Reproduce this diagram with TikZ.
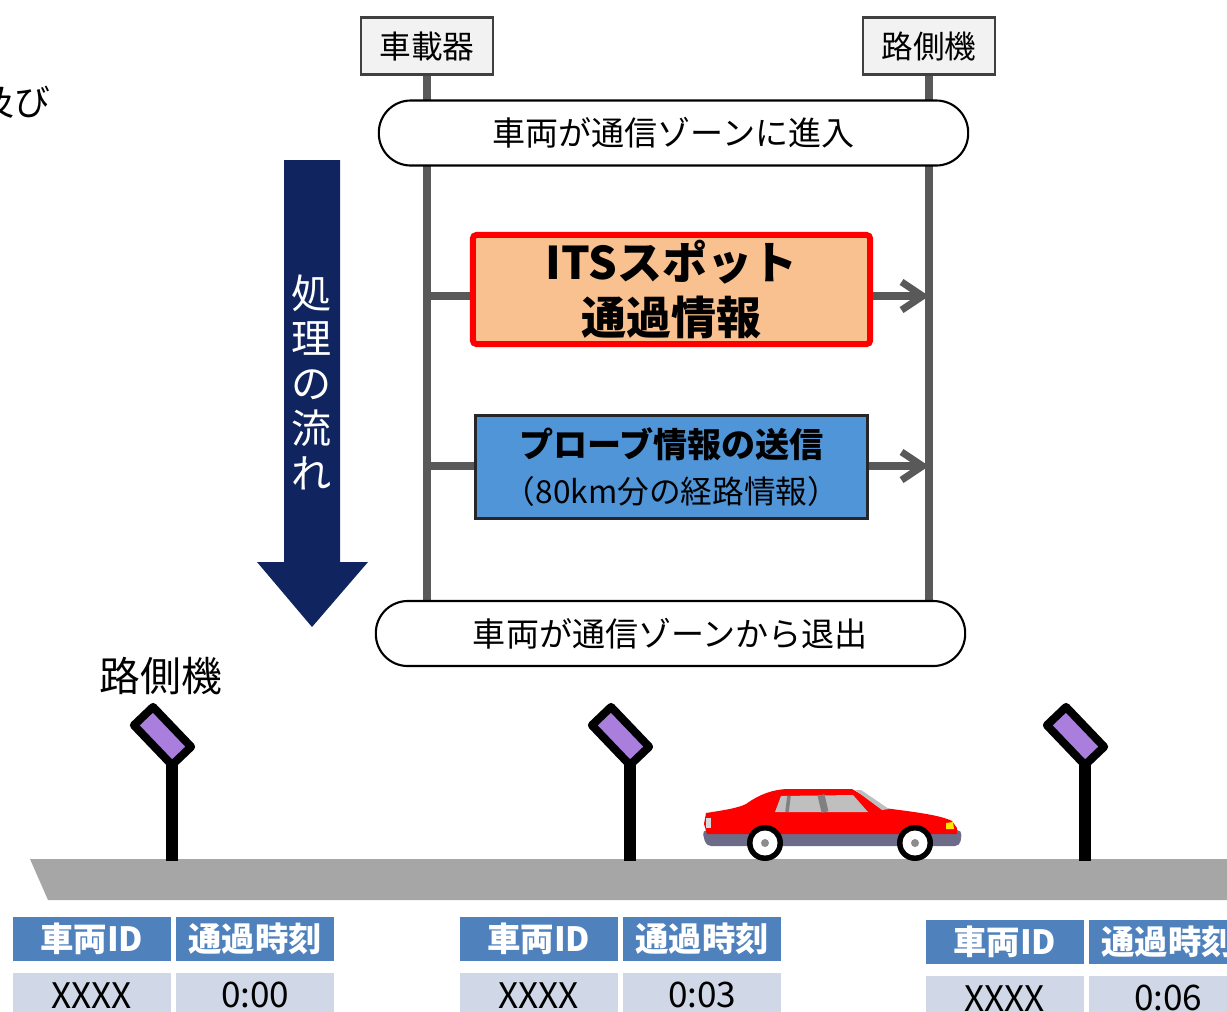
\documentclass[tikz,border=0pt]{standalone}
\usepackage{fontspec}
\setmainfont{Noto Sans CJK JP}
\usetikzlibrary{arrows.meta,backgrounds}
\definecolor{lifegray}{HTML}{595959}
\definecolor{peach}{HTML}{F9C090}
\definecolor{probeblue}{HTML}{4F95D8}
\definecolor{navy}{HTML}{10245F}
\definecolor{roadgray}{HTML}{A6A6A6}
\definecolor{signpurple}{HTML}{A97EDC}
\definecolor{tblue}{HTML}{4F81BD}
\definecolor{tlight}{HTML}{D0D8E8}
\definecolor{bumper}{HTML}{6C6C88}

\begin{document}
\begin{tikzpicture}[x=0.01cm,y=-0.01cm,
    hdr/.style={draw=black!75,line width=0.6pt,fill=black!5,minimum width=1.32cm,minimum height=0.57cm,inner sep=0pt,font=\fontsize{9}{11}\selectfont},
    zone/.style={draw,line width=0.6pt,fill=white,rounded corners=0.32cm,minimum width=5.89cm,minimum height=0.65cm,inner sep=0pt,font=\fontsize{9.4}{11}\selectfont},
    life/.style={lifegray,line width=2pt},
    msg/.style={life,-{Straight Barb[length=6pt,width=8pt]}},
    thead/.style={fill=tblue,text=white,minimum width=1.58cm,minimum height=0.44cm,inner sep=0pt,font=\fontsize{9.5}{11}\selectfont\bfseries},
    tcell/.style={fill=tlight,minimum width=1.58cm,minimum height=0.44cm,inner sep=0pt,font=\fontsize{10}{11}\selectfont},
    pole/.style={line width=3.4pt},
    sign/.style={draw,line width=2.3pt,line join=round,fill=signpurple}]
  \clip (0,0) rectangle (1227,1011);

  \node[anchor=east,inner sep=0pt,font=\fontsize{10.2}{11}\selectfont] (oyobi) at (51,102) {及び};

  % sequence part
  \node[hdr] (obu) at (427,46) {車載器};
  \node[hdr] (rsu) at (929,46) {路側機};
  \node[zone] (enter) at (673.5,133) {車両が通信ゾーンに進入};
  \node[zone] (exit) at (670.5,633.5) {車両が通信ゾーンから退出};
  \node[draw=red,line width=1.7pt,fill=peach,rounded corners=1pt,minimum width=3.97cm,minimum height=1.09cm,inner sep=0pt,align=center,font=\fontsize{12.8}{15.6}\selectfont\bfseries] (its) at (671.5,289.5) {ITSスポット\\通過情報};
  \node[draw=black!85,line width=0.9pt,fill=probeblue,minimum width=3.92cm,minimum height=1.03cm,inner sep=0pt,align=center] (probe) at (671.5,467) {{\fontsize{9.7}{11}\selectfont\bfseries プローブ情報の送信}\\[1pt]{\fontsize{9}{11}\selectfont （80km分の経路情報）}};
  \coordinate (itsy) at (0,296);
  \coordinate (probey) at (0,466);
  \begin{scope}[on background layer]
    \draw[life] (obu.south) -- (obu |- exit.north);
    \draw[life] (rsu.south) -- (rsu |- exit.north);
    \draw[msg] (obu |- itsy) -- (rsu |- itsy);
    \draw[msg] (obu |- probey) -- (rsu |- probey);
  \end{scope}

  % flow arrow
  \fill[navy] (284,160) -- (340,160) -- (340,562) -- (368,562) -- (312,627) -- (257,562) -- (284,562) -- cycle;
  \node[text=white,align=center,inner sep=0pt,font=\fontsize{11.4}{12.8}\selectfont] (flow) at (312,382) {処\\理\\の\\流\\れ};

  % road and roadside units
  \node[font=\fontsize{11.6}{13}\selectfont] (rsulabel) at (161,676) {路側機};
  \fill[roadgray] (30,859) -- (1240,859) -- (1240,900) -- (48,900) -- cycle;
  \foreach \px in {172,630,1085}{
    \draw[pole] (\px,764) -- (\px,861);
    \draw[sign,shift={(\px-9.5,736)},scale=1.1] (-8.6,-26.4) -- (26,9.8) -- (8.6,26.4) -- (-26,-9.8) -- cycle;
  }

  % car
  \fill[bumper,rounded corners=0.05cm] (702,830) -- (962,830) -- (960,846) -- (706,846) -- cycle;
  \fill[red] (707,834) -- (704,824) -- (706,813) .. controls (725,810) and (738,808) .. (746,804) .. controls (760,794) and (772,790) .. (786,789) -- (852,789) -- (884,808) .. controls (915,812) and (940,815) .. (952,821) -- (957,828) -- (957,834) -- cycle;
  \fill[black!25] (775,812) -- (781,796) -- (853,795) -- (868,812) -- cycle;
  \fill[black!25] (855,790) -- (861,790) -- (889,809) -- (882,810) -- cycle;
  \draw[black!50,line width=1pt] (789,796) -- (787,812);
  \draw[black!50,line width=2pt] (821,795) -- (825,812);
  \fill[yellow!90!orange] (946,823) -- (953,822) -- (954,829) -- (946,829) -- cycle;
  \fill[black!15] (706,818) rectangle (711,828);
  \foreach \wx in {765,915}{
    \fill (\wx,843) circle[radius=18];
    \fill[white] (\wx,843) circle[radius=12.5];
    \fill[black!45] (\wx,843) circle[radius=4];
  }

  % passing records
  \foreach \tx/\ty/\tm [count=\i] in {12/916/0:00,459/916/0:03,925/919/0:06}{
    \node[thead,anchor=north west] (id\i) at (\tx,\ty) {車両ID};
    \node[thead,anchor=north west] (tm\i) at ([xshift=0.04cm]id\i.north east) {通過時刻};
    \node[tcell,anchor=north west] (idv\i) at ([yshift=-0.11cm]id\i.south west) {XXXX};
    \node[tcell,anchor=north west] (tmv\i) at ([yshift=-0.11cm]tm\i.south west) {\tm};
  }
\end{tikzpicture}
\end{document}
